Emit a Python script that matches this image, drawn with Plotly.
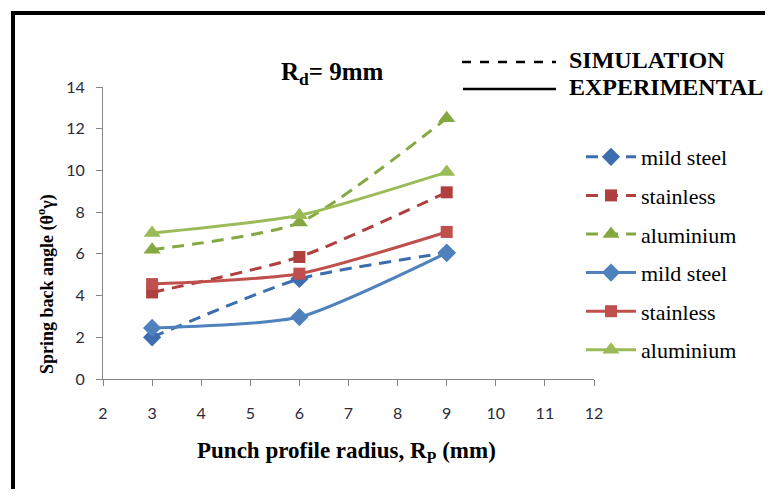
import plotly.graph_objects as go

x_vals = [3, 6, 9]
sim_mild = [2.0, 4.8, 6.05]
sim_stainless = [4.15, 5.85, 8.95]
sim_alu = [6.2, 7.5, 12.5]
exp_mild = [2.45, 2.97, 6.05]
exp_stainless = [4.55, 5.05, 7.05]
exp_alu = [7.0, 7.85, 9.92]

x_ticks = [2, 3, 4, 5, 6, 7, 8, 9, 10, 11, 12]
y_ticks = [0, 2, 4, 6, 8, 10, 12, 14]

names = ["mild steel", "stainless", "aluminium"]
sim_colors = ["#3C6DAE", "#B0403E", "#86A843"]
exp_colors = ["#4F81BD", "#C0504D", "#9BBB59"]
symbols = ["diamond", "square", "triangle-up"]
sizes = [14, 12, 15]

fig = go.Figure()
for i, ys in enumerate([sim_mild, sim_stainless, sim_alu]):
    fig.add_trace(go.Scatter(
        x=x_vals, y=ys, name=names[i], mode="lines+markers",
        line=dict(color=sim_colors[i], width=3, dash="12px,8px", shape="spline", smoothing=0.6),
        marker=dict(symbol=symbols[i], size=sizes[i], color=sim_colors[i]),
        legendgroup="s%d" % i,
    ))
for i, ys in enumerate([exp_mild, exp_stainless, exp_alu]):
    fig.add_trace(go.Scatter(
        x=x_vals, y=ys, name=names[i], mode="lines+markers",
        line=dict(color=exp_colors[i], width=3, shape="spline", smoothing=0.6),
        marker=dict(symbol=symbols[i], size=sizes[i], color=exp_colors[i]),
        legendgroup="e%d" % i,
    ))

# page body has an 8px margin; figure sized so it fits the 773x497 window
W, H = 757, 481
L, T = 95, 79
pw, ph = 491, 292
R, B = W - L - pw, H - T - ph


def px(xp):  # screenshot x -> paper x
    return (xp - 103) / pw


def py(yp):  # screenshot y -> paper y
    return (379 - yp) / ph


serif = "Liberation Serif, Times New Roman, serif"
tick_font = dict(family="Lato, Noto Sans, sans-serif", size=16, color="#2b2b3a")

fig.update_layout(
    width=W, height=H,
    margin=dict(l=L, r=R, t=T, b=B),
    plot_bgcolor="white", paper_bgcolor="white",
    showlegend=True,
    legend=dict(
        x=px(581), y=py(136), xanchor="left", yanchor="top",
        font=dict(family=serif, size=22, color="black"),
        tracegroupgap=7, itemwidth=50, bgcolor="rgba(0,0,0,0)",
    ),
    xaxis=dict(
        range=[2, 12], tickvals=x_ticks, showgrid=False, zeroline=False,
        showline=True, linecolor="#868686", linewidth=1,
        ticks="outside", ticklen=6, tickcolor="#868686",
        tickfont=tick_font, ticklabelstandoff=14,
    ),
    yaxis=dict(
        range=[0, 14], tickvals=y_ticks, showgrid=False, zeroline=False,
        showline=True, linecolor="#868686", linewidth=1,
        ticks="outside", ticklen=6, tickcolor="#868686",
        tickfont=tick_font, ticklabelstandoff=8,
    ),
    shapes=[
        dict(type="rect", xref="paper", yref="paper",
             x0=px(13), x1=px(820), y0=py(540), y1=py(13),
             line=dict(color="black", width=4), fillcolor="rgba(0,0,0,0)", layer="below"),
        dict(type="line", xref="paper", yref="paper",
             x0=px(462), x1=px(556), y0=py(62), y1=py(62),
             line=dict(color="black", width=2.5, dash="dash")),
        dict(type="line", xref="paper", yref="paper",
             x0=px(463), x1=px(556), y0=py(89), y1=py(89),
             line=dict(color="black", width=2.5)),
    ],
    annotations=[
        dict(text="<b>R<sub>d</sub>= 9mm</b>", xref="paper", yref="paper",
             x=px(279), y=py(74), xanchor="left", yanchor="middle", showarrow=False,
             font=dict(family=serif, size=25, color="black")),
        dict(text="<b>SIMULATION</b>", xref="paper", yref="paper",
             x=px(567), y=py(60), xanchor="left", yanchor="middle", showarrow=False,
             font=dict(family=serif, size=24, color="black")),
        dict(text="<b>EXPERIMENTAL</b>", xref="paper", yref="paper",
             x=px(567), y=py(87), xanchor="left", yanchor="middle", showarrow=False,
             font=dict(family=serif, size=24, color="black")),
        dict(text="<b>Spring back angle (θ<sup>o</sup>γ)</b>", xref="paper", yref="paper",
             x=px(46), y=py(284), xanchor="center", yanchor="middle", showarrow=False,
             textangle=-90, font=dict(family=serif, size=18, color="black")),
        dict(text="<b>Punch profile radius, R<sub>P</sub> (mm)</b>", xref="paper", yref="paper",
             x=px(346), y=py(452), xanchor="center", yanchor="middle", showarrow=False,
             font=dict(family=serif, size=23, color="black")),
    ],
)

fig.write_html("out.html")
